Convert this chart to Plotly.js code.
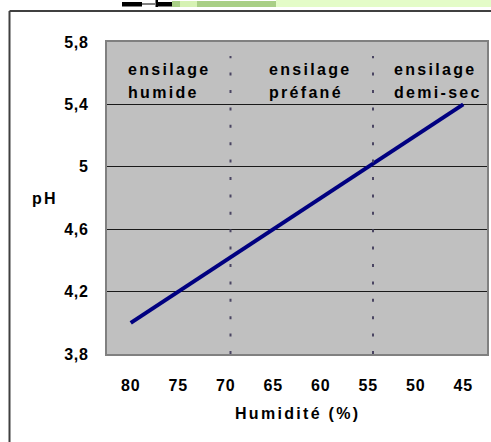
<!DOCTYPE html>
<html>
<head>
<meta charset="utf-8">
<script src="https://cdn.plot.ly/plotly-3.0.1.min.js"></script>
<style>
  html, body { margin: 0; padding: 0; background: #fff; }
  #chart { width: 491px; height: 442px; }
  .annotation-text { letter-spacing: 2.3px; font-weight: 700 !important; }
  .xtick text, .ytick text { letter-spacing: 0.8px; font-weight: 700 !important; }
</style>
</head>
<body>
<div id="chart"></div>
<script>
// Data
const humidite = [80, 75, 70, 65, 60, 55, 50, 45];
const ph = [4.0, 4.2, 4.4, 4.6, 4.8, 5.0, 5.2, 5.4];
const yTicks = [3.8, 4.2, 4.6, 5.0, 5.4, 5.8];
const zoneBounds = [69.5, 54.5];
const zoneLabels = [["ensilage", "humide"], ["ensilage", "préfané"], ["ensilage", "demi-sec"]];

const W = 491, H = 442;
const M = {l: 107, r: 4, t: 42, b: 88};
const PW = W - M.l - M.r, PH = H - M.t - M.b;
const px = x => (x - M.l) / PW;
const py = y => (M.t + PH - y) / PH;

const font = {family: '"Liberation Sans", Arial, sans-serif', size: 16, color: '#000', weight: 700};
const tfont = {family: '"Liberation Sans", Arial, sans-serif', size: 16, color: '#000', weight: 700};

const shapes = [];
zoneBounds.forEach(b => {
  shapes.push({type: 'line', xref: 'x', yref: 'y', x0: b, x1: b, y0: 3.8, y1: 5.71,
    line: {color: '#4a4562', width: 2, dash: '3px,14.4px'}, layer: 'above'});
});
// outer frame
shapes.push({type: 'line', xref: 'paper', yref: 'paper', x0: px(9.5), x1: px(9.5), y0: py(11), y1: py(445), line: {color: '#404040', width: 2}});
shapes.push({type: 'line', xref: 'paper', yref: 'paper', x0: px(9.5), x1: px(495), y0: py(11), y1: py(11), line: {color: '#404040', width: 2}});
// top artifacts
function rect(x0, x1, y0, y1, c) {
  shapes.push({type: 'rect', xref: 'paper', yref: 'paper', x0: px(x0), x1: px(x1), y0: py(y1), y1: py(y0), line: {width: 0}, fillcolor: c});
}
rect(276, 495, 0, 7, '#e4fcc8');
rect(172, 276, 1, 7, '#a9cf86');
rect(180, 197, 1, 7, '#d6f2b4');
rect(122, 142, 2, 6.5, '#000');
rect(142, 155, 3.5, 4.5, '#000');
rect(155.5, 158, 0, 7, '#000');
rect(158, 172, 2, 6.5, '#000');

const annXs = [126, 267, 392];
const annotations = [];
zoneLabels.forEach((lines, i) => {
  annotations.push({text: lines[0], xref: 'paper', yref: 'paper', x: px(annXs[i]), y: py(69), xanchor: 'left', yanchor: 'middle', showarrow: false, font: font});
  annotations.push({text: lines[1], xref: 'paper', yref: 'paper', x: px(annXs[i]), y: py(92), xanchor: 'left', yanchor: 'middle', showarrow: false, font: font});
});
annotations.push({text: 'pH', xref: 'paper', yref: 'paper', x: px(45), y: py(198), xanchor: 'center', yanchor: 'middle', showarrow: false, font: tfont});
annotations.push({text: 'Humidité (%)', xref: 'paper', yref: 'paper', x: px(297), y: py(413), xanchor: 'center', yanchor: 'middle', showarrow: false, font: tfont});

const trace = {x: humidite, y: ph, type: 'scatter', mode: 'lines', line: {color: '#000080', width: 4}, hoverinfo: 'skip'};

const layout = {
  width: W, height: H,
  margin: M,
  paper_bgcolor: '#fff',
  plot_bgcolor: '#c0c0c0',
  separators: ',.',
  showlegend: false,
  font: tfont,
  xaxis: {
    range: [82.5, 42.5], tickvals: humidite, ticktext: humidite.map(String),
    showgrid: false, zeroline: false, showline: true, mirror: true, linecolor: '#808080', linewidth: 2,
    ticks: '', ticklabelstandoff: 16, tickfont: tfont
  },
  yaxis: {
    range: [3.8, 5.8], tickvals: yTicks, ticktext: yTicks.map(v => String(v).replace('.', ',')),
    showgrid: true, gridcolor: '#1a1a1a', gridwidth: 1, zeroline: false,
    showline: true, mirror: true, linecolor: '#808080', linewidth: 2,
    ticks: '', ticklabelstandoff: 13, tickfont: tfont
  },
  shapes: shapes,
  annotations: annotations
};

Plotly.newPlot('chart', [trace], layout, {staticPlot: true, displayModeBar: false});
</script>
</body>
</html>
